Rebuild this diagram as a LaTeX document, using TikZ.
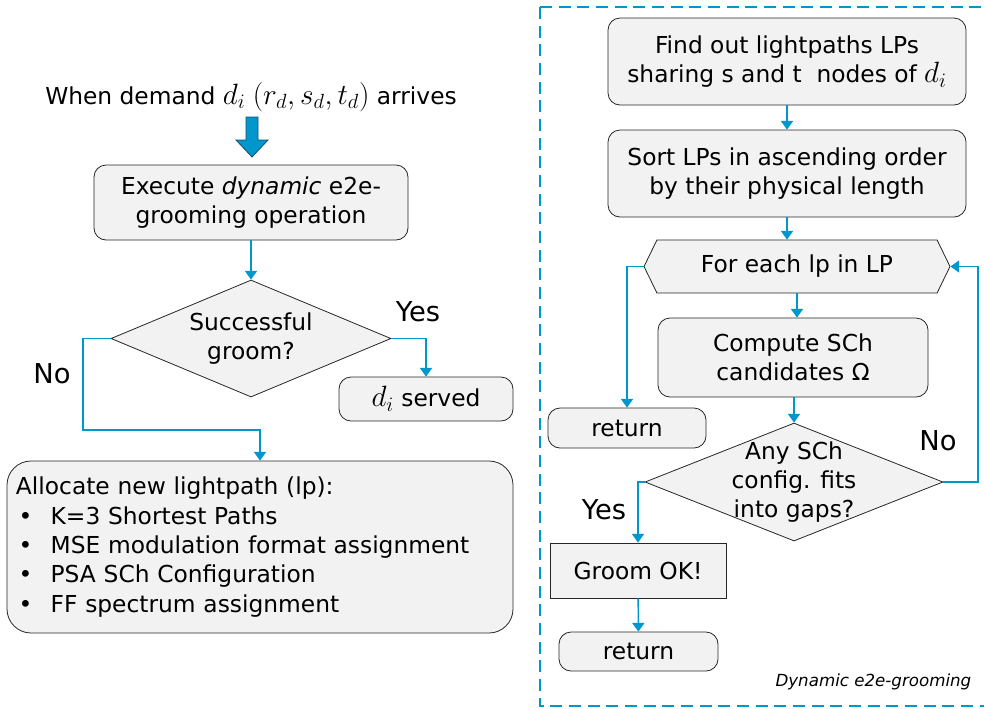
\RequirePackage{fix-cm}
\documentclass[tikz,border=0pt]{standalone}
\usepackage{fontspec}
\setmainfont{DejaVu Sans}
\usetikzlibrary{shapes.geometric,shapes.symbols,arrows.meta}
\definecolor{flowblue}{RGB}{0,152,204}
\definecolor{flowdark}{RGB}{25,75,110}
\definecolor{boxgray}{RGB}{242,242,242}
\newcommand{\bigmath}[1]{{\fontsize{22}{22}\selectfont$#1$}}

\begin{document}
\begin{tikzpicture}[x=0.75pt, y=-0.75pt,
    every node/.style={font=\fontsize{17.5}{22}\selectfont},
    process/.style={draw=black!85, line width=0.6pt, fill=boxgray, rounded corners=9pt, align=center, inner sep=0pt},
    plainbox/.style={draw=black!85, line width=0.6pt, fill=boxgray, align=center, inner sep=0pt},
    decision/.style={draw=black!85, line width=0.6pt, fill=boxgray, shape=diamond, inner sep=0pt},
    loopbox/.style={draw=black!85, line width=0.6pt, fill=boxgray, shape=signal, signal to=west and east, signal pointer angle=128, inner sep=0pt},
    flow/.style={draw=flowblue, line width=1.1pt, -{Triangle[width=9pt,length=6.5pt]}},
    answer/.style={font=\fontsize{20.5}{22}\selectfont}]

    \useasboundingbox (0,0) rectangle (984,708);

    % kader rond de dynamische e2e-grooming
    \draw[flowblue, line width=1.5pt, dash pattern=on 9pt off 5pt] (540,7) rectangle (995,706);
    \node[anchor=south east, font=\fontsize{12.5}{14}\selectfont\itshape] (caption) at (976,695) {Dynamic e2e-grooming};

    % linkerkant
    \node (arrival) at (251,97) {When demand \bigmath{d_i} \bigmath{(r_d,s_d,t_d)} arrives};
    \draw[fill=flowblue, draw=flowdark, line width=0.6pt] (246,117) -- (258,117) -- (258,140) -- (268,140)
        -- (252,157) -- (236,140) -- (246,140) -- cycle;

    \node[process, minimum width=235.5pt, minimum height=56.25pt] (execute) at (251,202.5)
        {Execute \textit{dynamic} e2e-\\grooming operation};
    \node[decision, minimum width=210pt, minimum height=87.75pt,
        label={[align=center]center:Successful\\groom?}] (groom) at (251,338.5) {};
    \node[process, minimum width=130.5pt, minimum height=33pt] (served) at (426,399) {\bigmath{d_i} served};
    \node[process, rounded corners=18pt, minimum width=379.5pt, minimum height=129pt,
        align=left, text width=366pt] (allocate) at (260,547)
        {Allocate new lightpath (lp):\\
         \makebox[26pt][l]{\hspace{2pt}\textbullet}K=3 Shortest Paths\\
         \makebox[26pt][l]{\hspace{2pt}\textbullet}MSE modulation format assignment\\
         \makebox[26pt][l]{\hspace{2pt}\textbullet}PSA SCh Configuration\\
         \makebox[26pt][l]{\hspace{2pt}\textbullet}FF spectrum assignment};

    \node[answer] (yesleft) at (418,312) {Yes};
    \node[answer] (noleft) at (52,374) {No};
    \coordinate (nobend) at (83,430);

    \draw[flow] (execute) -- (groom);
    \draw[flow] (groom.east) -| (served.north);
    \draw[flow] (groom.west) -| (nobend) -| (allocate.north);

    % rechterkant
    \node[process, minimum width=268.5pt, minimum height=65.25pt] (findlp) at (787,61.5)
        {Find out lightpaths LPs\\sharing s and t~ nodes of \bigmath{d_i}};
    \node[process, minimum width=268.5pt, minimum height=65.25pt] (sortlp) at (787,173.5)
        {Sort LPs in ascending order\\by their physical length};
    \node[loopbox, minimum width=229.5pt, minimum height=39.75pt] (foreach) at (797,266.5) {For each lp in LP};
    \node[process, minimum width=202.5pt, minimum height=59.25pt] (compute) at (793,357.5)
        {Compute SCh\\candidates Ω};
    \node[decision, minimum width=223.5pt, minimum height=88.5pt,
        label={[align=center]center:Any SCh\\config. fits\\into gaps?}] (fits) at (794,482) {};
    \node[process, minimum width=118.5pt, minimum height=30pt] (returnend) at (627,428) {return};
    \node[plainbox, minimum width=132pt, minimum height=41.25pt] (groomok) at (638,570.5) {Groom OK!};
    \node[process, minimum width=119.25pt, minimum height=29.25pt] (returnok) at (638.5,651.5) {return};

    \node[answer] (noright) at (938,441) {No};
    \node[answer] (yesright) at (604,510) {Yes};
    \coordinate (loopback) at (978,482);

    \draw[flow] (findlp) -- (sortlp);
    \draw[flow] (sortlp.south) -- (sortlp.south |- foreach.north);
    \draw[flow] (foreach.south) -- (foreach.south |- compute.north);
    \draw[flow] (compute.south -| fits.north) -- (fits.north);
    \draw[flow] (fits.east) -- (loopback) |- (foreach.east);
    \draw[flow] (foreach.west) -| (returnend.north);
    \draw[flow] (fits.west) -| (groomok.north);
    \draw[flow] (groomok) -- (returnok);
\end{tikzpicture}
\end{document}
